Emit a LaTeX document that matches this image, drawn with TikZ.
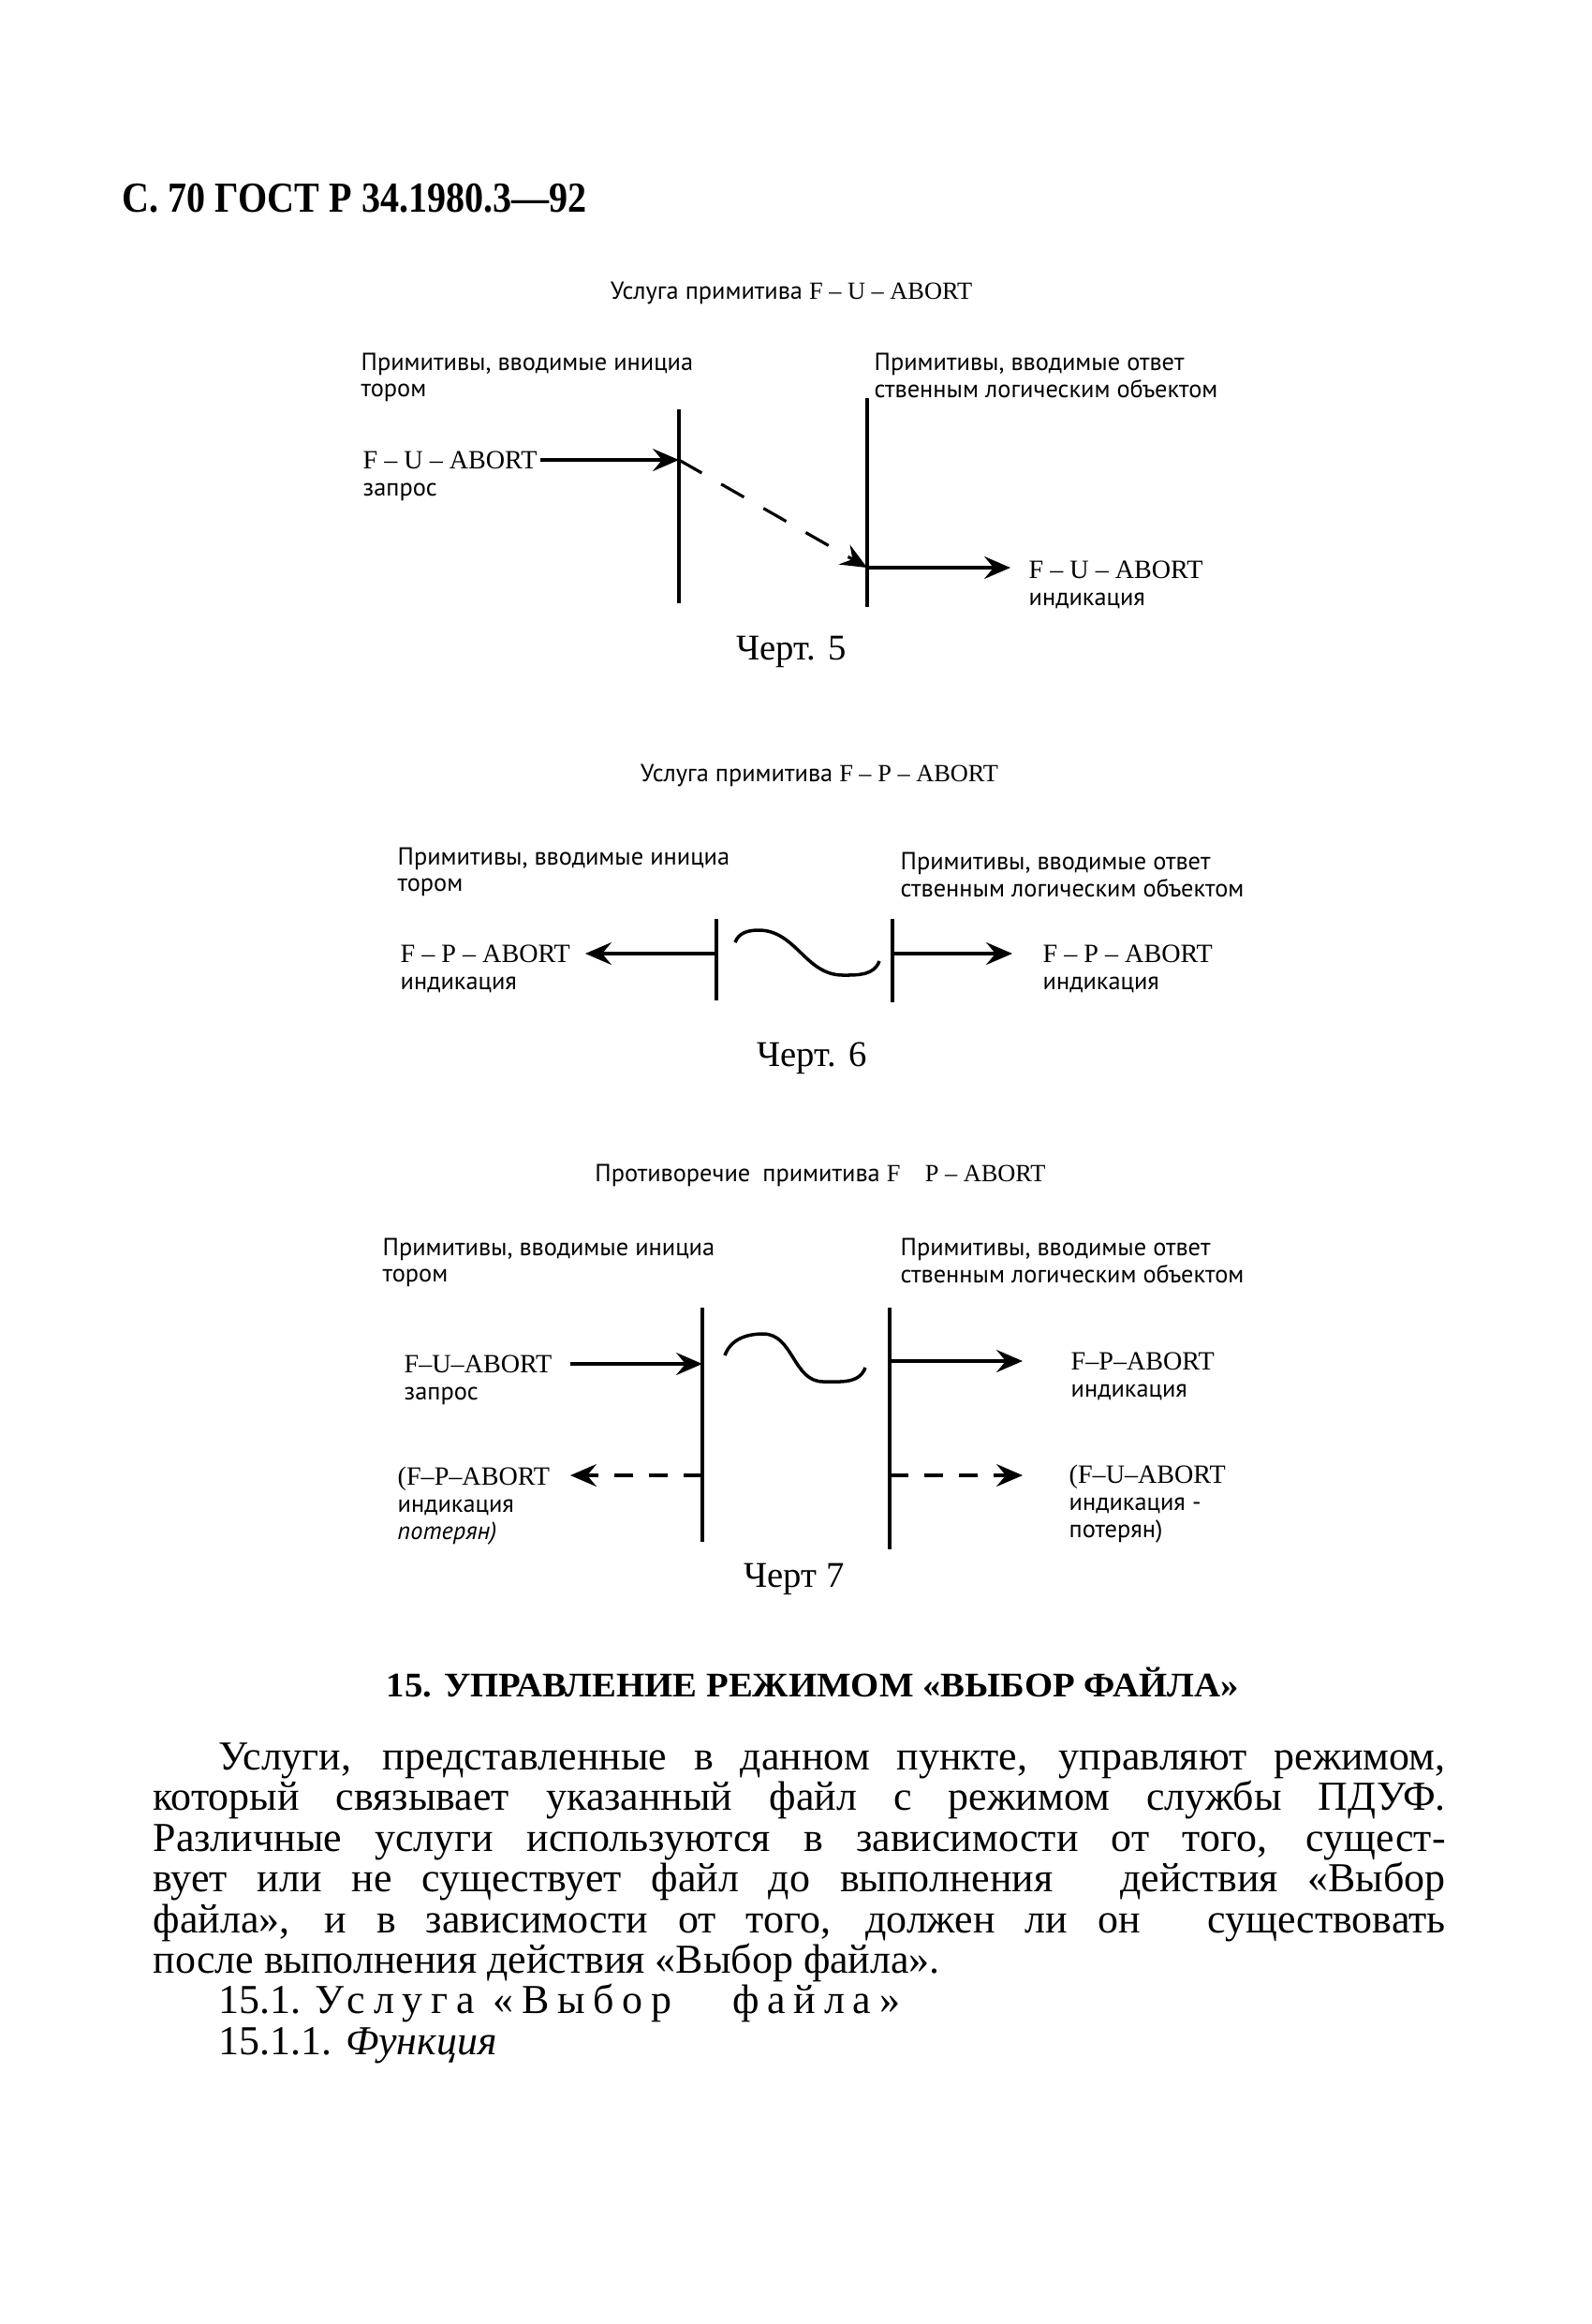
\documentclass[tikz,border=0pt]{standalone}
\usepackage{fontspec}
\setmainfont{Liberation Serif}
\setsansfont{PT Sans}
\usetikzlibrary{arrows.meta,positioning,calc}
\tikzset{
	life/.style={line width=1.1pt},
	sig/.style={-{Stealth[length=2.8mm,width=2.4mm,inset=1mm]},line width=0.9pt},
	lost/.style={sig,dash pattern=on 2mm off 1.7mm},
	wave/.style={line width=1pt},
	hdr/.style={anchor=west,align=left,inner sep=0,font=\sffamily\fontsize{7.5}{8.1}\selectfont},
	ttl/.style={inner sep=0,font=\sffamily\fontsize{7.5}{9}\selectfont},
	prim/.style={anchor=west,inner sep=0,font=\fontsize{8}{9}\selectfont},
	sub/.style={anchor=north west,align=left,inner sep=0,font=\sffamily\fontsize{7.5}{8.1}\selectfont},
	fig/.style={inner sep=0,font=\fontsize{11}{13}\selectfont},
	body/.style={anchor=base west,inner sep=0,font=\fontsize{12.5}{15}\selectfont}
}
\newcommand{\abrt}[1]{F -- #1 -- ABORT}
\newcommand{\abrtc}[1]{F--#1--ABORT}
\newcommand{\lpr}{Примитивы, вводимые инициа\\тором}
\newcommand{\rpr}{Примитивы, вводимые ответ\\ственным логическим объектом}

\begin{document}
\begin{tikzpicture}[node distance=1.4mm]
	\useasboundingbox[fill=white] (0,0) rectangle (17,-24.81);
	\node[anchor=west,inner sep=0] (pg) at (1.30,-2.12) {\resizebox{4.96cm}{\height}{\bfseries\fontsize{13}{15}\selectfont С. 70 ГОСТ Р 34.1980.3—92}};

	% Черт. 5
	\node[ttl] (ti1) at (8.45,-3.13) {Услуга примитива \textrm{\abrt{U}}};
	\node[hdr] (h1) at (3.85,-4.03) {\lpr};
	\node[hdr] (h2) at (9.33,-4.01) {\rpr};
	\coordinate (l1a) at (7.25,-4.37); \coordinate (l1b) at (7.25,-6.44);
	\coordinate (l2a) at (9.26,-4.25); \coordinate (l2b) at (9.26,-6.48);
	\coordinate (s1) at (5.77,-4.91); \coordinate (e1) at (10.79,-6.06);
	\node[prim] (fu1) at (3.87,-4.91) {\abrt{U}};
	\node[below=of fu1.south west, sub] (fu1s) {запрос};
	\node[prim] (fu2) at (10.98,-6.08) {\abrt{U}};
	\node[below=of fu2.south west, sub] (fu2s) {индикация};
	\draw[life] (l1a) -- (l1b);
	\draw[life] (l2a) -- (l2b);
	\draw[sig] (s1) -- (s1 -| l1a);
	\draw[sig,dash pattern=on 2.8mm off 2.4mm] (s1 -| l1a) -- (e1 -| l2a);
	\draw[sig] (e1 -| l2a) -- (e1);
	\node[fig] (f5) at (8.45,-6.96) {Черт. 5};

	% Черт. 6
	\node[ttl] (ti2) at (8.75,-8.28) {Услуга примитива \textrm{\abrt{P}}};
	\node[hdr] (h3) at (4.24,-9.31) {\lpr};
	\node[hdr] (h4) at (9.61,-9.34) {\rpr};
	\coordinate (l3a) at (7.65,-9.81); \coordinate (l3b) at (7.65,-10.68);
	\coordinate (l4a) at (9.53,-9.81); \coordinate (l4b) at (9.53,-10.70);
	\coordinate (s2) at (6.25,-10.18); \coordinate (e2) at (10.81,-10.18);
	\node[prim] (fp1) at (4.27,-10.18) {\abrt{P}};
	\node[below=of fp1.south west, sub] (fp1s) {индикация};
	\node[prim] (fp2) at (11.13,-10.18) {\abrt{P}};
	\node[below=of fp2.south west, sub] (fp2s) {индикация};
	\draw[life] (l3a) -- (l3b);
	\draw[life] (l4a) -- (l4b);
	\draw[sig] (s2 -| l3a) -- (s2);
	\draw[sig] (e2 -| l4a) -- (e2);
	\draw[wave] (7.85,-10.06) to[out=70,in=180] (8.10,-9.93) to[out=0,in=180] (9.00,-10.41) to[out=0,in=250] (9.39,-10.26);
	\node[fig] (f6) at (8.67,-11.30) {Черт. 6};

	% Черт 7
	\node[ttl] (ti3) at (8.76,-12.55) {Противоречие\enspace примитива \textrm{F\quad P -- ABORT}};
	\node[hdr] (h5) at (4.08,-13.48) {\lpr};
	\node[hdr] (h6) at (9.61,-13.46) {\rpr};
	\coordinate (l5a) at (7.50,-13.96); \coordinate (l5b) at (7.50,-16.46);
	\coordinate (l6a) at (9.50,-13.96); \coordinate (l6b) at (9.50,-16.54);
	\coordinate (s3) at (6.09,-14.56); \coordinate (e3) at (10.92,-14.53);
	\coordinate (s4) at (6.09,-15.75); \coordinate (e4) at (10.92,-15.75);
	\node[prim] (fu3) at (4.31,-14.56) {\abrtc{U}};
	\node[below=of fu3.south west, sub] (fu3s) {запрос};
	\node[prim] (fp3) at (11.43,-14.53) {\abrtc{P}};
	\node[below=of fp3.south west, sub] (fp3s) {индикация};
	\node[prim] (fp4) at (4.24,-15.79) {(\abrtc{P}};
	\node[below=0.8mm of fp4.south west, sub] (fp4s) {индикация\\\textit{потерян)}};
	\node[prim] (fu4) at (11.41,-15.77) {(\abrtc{U}};
	\node[below=0.8mm of fu4.south west, sub] (fu4s) {индикация -\\потерян)};
	\draw[life] (l5a) -- (l5b);
	\draw[life] (l6a) -- (l6b);
	\draw[sig] (s3) -- (s3 -| l5a);
	\draw[sig] (e3 -| l6a) -- (e3);
	\draw[lost] (s4 -| l5a) -- (s4);
	\draw[lost] (e4 -| l6a) -- (e4);
	\draw[wave] (7.74,-14.47) to[out=70,in=180] (8.15,-14.24) to[out=0,in=180] (8.79,-14.75) to[out=0,in=250] (9.24,-14.60);
	\node[fig] (f7) at (8.48,-16.86) {Черт 7};

	% текст
	\node[anchor=base west,inner sep=0] (hd) at (4.12,-18.11) {\resizebox{9.10cm}{\height}{\bfseries\fontsize{10.5}{12}\selectfont 15. УПРАВЛЕНИЕ РЕЖИМОМ «ВЫБОР ФАЙЛА»}};
	\node[body] (p1) at (2.33,-18.89) {\makebox[13.10cm][s]{Услуги, представленные в данном пункте, управляют режимом,}};
	\node[body] (p2) at (1.63,-19.32) {\makebox[13.80cm][s]{который связывает указанный файл с режимом службы ПДУФ.}};
	\node[body] (p3) at (1.63,-19.76) {\makebox[13.80cm][s]{Различные услуги используются в зависимости от того, сущест-}};
	\node[body] (p4) at (1.63,-20.19) {\makebox[13.80cm][s]{вует или не существует файл до выполнения\hspace{0.4cm} действия «Выбор}};
	\node[body] (p5) at (1.63,-20.63) {\makebox[13.80cm][s]{файла», и в зависимости от того, должен ли он\hspace{0.4cm} существовать}};
	\node[body] (p6) at (1.63,-21.06) {после выполнения действия «Выбор файла».};
	\node[body] (p7) at (2.33,-21.49) {15.1. {\addfontfeature{LetterSpace=20}Услуга «Выбор\hspace{0.45cm} файла»}};
	\node[body] (p8) at (2.33,-21.93) {15.1.1. \textit{Функция}};
\end{tikzpicture}
\end{document}
